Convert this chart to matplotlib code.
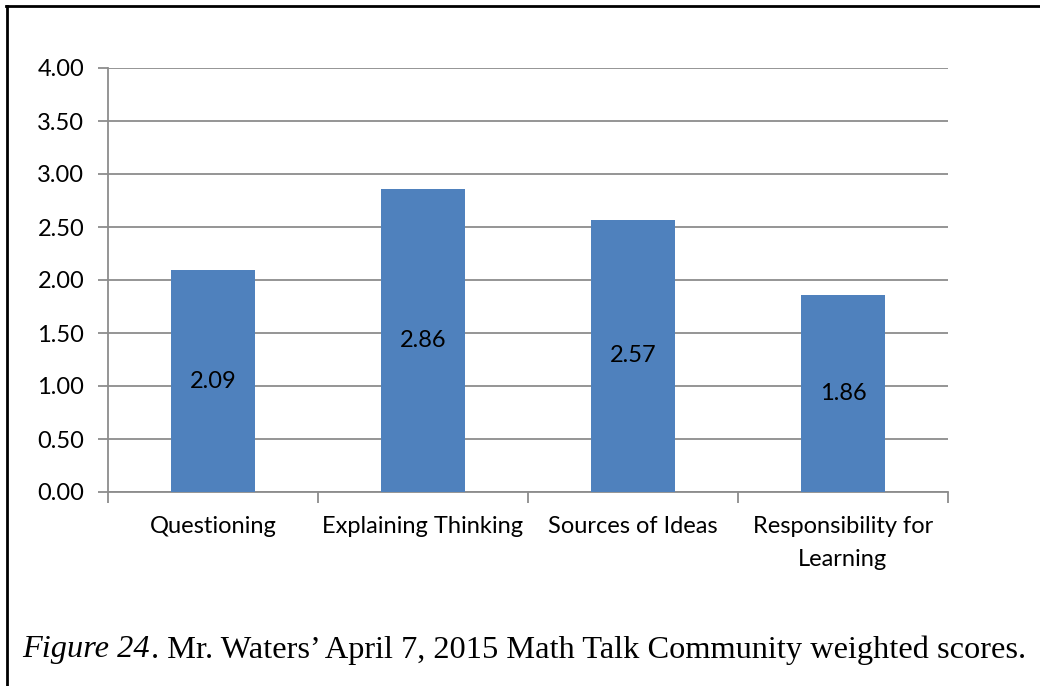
import matplotlib
matplotlib.use("Agg")
import matplotlib.pyplot as plt
from matplotlib.lines import Line2D

categories = ["Questioning", "Explaining Thinking", "Sources of Ideas", "Responsibility for\nLearning"]
values = [2.09, 2.86, 2.57, 1.86]
yticks = [0.0, 0.5, 1.0, 1.5, 2.0, 2.5, 3.0, 3.5, 4.0]

W, H = 1040, 686
fig = plt.figure(figsize=(W / 100, H / 100), dpi=100)
fig.patch.set_facecolor("white")

# outer frame (left and top edges visible)
fig.add_artist(Line2D([6.5 / W, 6.5 / W], [0, 1 - 6 / H], transform=fig.transFigure, color="black", linewidth=2))
fig.add_artist(Line2D([5.5 / W, 1], [1 - 6 / H, 1 - 6 / H], transform=fig.transFigure, color="black", linewidth=2))

ax = fig.add_axes([108 / W, 1 - 492 / H, 840 / W, 424 / H])
x = list(range(len(categories)))
ax.bar(x, values, width=0.4, color="#4F81BD", zorder=3)
for xi, v in zip(x, values):
    ax.text(xi, v / 2, f"{v:.2f}", ha="center", va="center", fontsize=17, family="Lato", color="black", zorder=4)

ax.set_xlim(-0.5, len(categories) - 0.5)
ax.set_ylim(0, 4.0)
ax.set_yticks(yticks)
ax.set_yticklabels([f"{t:.2f}" for t in yticks], fontsize=17, family="Lato")
ax.yaxis.grid(True, color="#8C8C8C", linewidth=1.3, zorder=0)
ax.set_xticks(x)
ax.set_xticklabels(categories, fontsize=17, family="Lato", linespacing=1.75)
ax.tick_params(axis="x", length=0, pad=17)
ax.tick_params(axis="y", length=7, color="#8C8C8C", width=1.3, pad=10)
ax.set_xticks([-0.5 + i for i in range(len(categories) + 1)], minor=True)
ax.tick_params(axis="x", which="minor", length=8, color="#8C8C8C", width=1.3)
for s in ["top", "right"]:
    ax.spines[s].set_visible(False)
for s in ["left", "bottom"]:
    ax.spines[s].set_color("#8C8C8C")
    ax.spines[s].set_linewidth(1.3)

cy = 1 - 650 / H
t1 = fig.text(22 / W, cy, "Figure 24", fontsize=23.3, family="Liberation Serif", style="italic", va="center")
fig.canvas.draw()
bb = t1.get_window_extent()
fig.text((bb.x1 + 1) / W, cy, ". Mr. Waters\u2019 April 7, 2015 Math Talk Community weighted scores.",
         fontsize=23.3, family="Liberation Serif", va="center")

fig.savefig("out.png", dpi=100)
